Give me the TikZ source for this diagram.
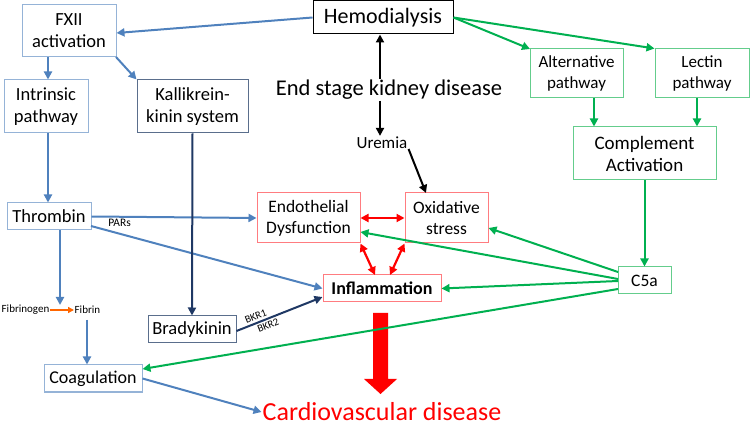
\documentclass[tikz,border=0pt]{standalone}
\usepackage{fontspec}
\setmainfont{Carlito}
\usetikzlibrary{arrows.meta,calc}
\definecolor{cblue}{RGB}{79,129,189}
\definecolor{bborder}{RGB}{149,179,215}
\definecolor{kborder}{RGB}{90,110,140}
\definecolor{navy}{RGB}{31,56,100}
\definecolor{cgreen}{RGB}{0,176,80}
\definecolor{gborder}{RGB}{100,205,140}
\definecolor{rborder}{RGB}{255,124,128}
\definecolor{corange}{RGB}{255,102,0}
\tikzset{
  box/.style={draw, line width=1pt, align=center, inner sep=1pt},
  bbox/.style={box, draw=bborder},
  gbox/.style={box, draw=gborder},
  rbox/.style={box, draw=rborder},
  fsa/.style={font=\fontsize{18.5}{22}\selectfont},
  fsb/.style={font=\fontsize{17.5}{21}\selectfont},
  tip/.style={-{Triangle[length=8pt,width=8pt]}},
  barrow/.style={tip, draw=cblue, fill=cblue, line width=2pt},
  narrow/.style={tip, draw=navy, fill=navy, line width=2pt},
  garrow/.style={tip, draw=cgreen, fill=cgreen, line width=2pt},
  karrow/.style={tip, draw=black, fill=black, line width=2pt},
  rarrow/.style={{Triangle[length=8pt,width=8pt]}-{Triangle[length=8pt,width=8pt]}, draw=red, fill=red, line width=2.2pt},
  small/.style={font=\fontsize{11.5}{12}\selectfont, inner sep=1pt},
  tiny/.style={font=\fontsize{10.5}{11}\selectfont, inner sep=0pt}
}
\begin{document}
\begin{tikzpicture}[x=1pt,y=-1pt]
\useasboundingbox (0,0) rectangle (750,430);
% nodes
\node[bbox, fsa, minimum width=94pt, minimum height=52pt] (fxii) at (69,31) {FXII\\activation};
\node[box, draw=black, font=\fontsize{22}{24}\selectfont, minimum width=140pt, minimum height=33pt] (hemo) at (383,17.5) {Hemodialysis};
\node[bbox, fsa, minimum width=84pt, minimum height=53pt] (intr) at (46,106.5) {Intrinsic\\pathway};
\node[box, draw=kborder, fsa, minimum width=111pt, minimum height=53pt] (kall) at (192.5,106.5) {Kallikrein-\\kinin system};
\node[gbox, font=\fontsize{17}{21}\selectfont, minimum width=93pt, minimum height=49pt] (alt) at (576.5,73.5) {Alternative\\pathway};
\node[gbox, font=\fontsize{17}{21}\selectfont, minimum width=94pt, minimum height=49pt] (lect) at (702,73.5) {Lectin\\pathway};
\node[gbox, font=\fontsize{19}{22}\selectfont, minimum width=143pt, minimum height=53pt] (comp) at (644.5,153.5) {Complement\\Activation};
\node[font=\fontsize{22.5}{24}\selectfont, inner sep=1pt] (esk) at (389,90) {End stage kidney disease};
\node[font=\fontsize{17}{18}\selectfont, inner sep=1pt] (urem) at (382,143) {Uremia};
\node[bbox, fsa, minimum width=84pt, minimum height=27pt] (thr) at (49,216.5) {Thrombin};
\node[rbox, fsb, minimum width=103pt, minimum height=50pt] (endo) at (308.5,218) {Endothelial\\Dysfunction};
\node[rbox, fsb, minimum width=83pt, minimum height=50pt] (oxi) at (446.5,218) {Oxidative\\stress};
\node[rbox, font=\fontsize{18}{20}\selectfont\bfseries, minimum width=118pt, minimum height=27pt] (infl) at (382,288.5) {Inflammation};
\node[gbox, fsb, minimum width=53pt, minimum height=27pt] (c5a) at (644.5,280.5) {C5a};
\node[box, draw=kborder, fsa, minimum width=88pt, minimum height=27pt] (brady) at (192,329.5) {Bradykinin};
\node[bbox, font=\fontsize{18}{20}\selectfont, minimum width=98pt, minimum height=27pt] (coag) at (93,378.5) {Coagulation};
\node[font=\fontsize{11}{12}\selectfont, inner sep=0.5pt, anchor=west] (fibg) at (1,310) {Fibrinogen};
\node[font=\fontsize{11}{12}\selectfont, inner sep=0.5pt, anchor=west] (fib) at (74,310) {Fibrin};
\node[font=\fontsize{26}{28}\selectfont, text=red, inner sep=1pt] (cvd) at (382,412) {Cardiovascular disease};
% big red arrow
\fill[red] (373,313) -- (388,313) -- (388,379) -- (397,379) -- (380.5,394) -- (364,379) -- (373,379) -- cycle;
% blue arrows
\draw[barrow] (hemo.west) -- (fxii.east |- 0,33);
\draw[barrow] (fxii.south -| 48,0) -- (intr.north -| 48,0);
\draw[barrow] (116,57) -- (kall.north west);
\draw[barrow] (intr.south -| 48,0) -- (thr.north -| 48,0);
\draw[barrow] (thr.east) -- node[small, below, pos=0.17]{PARs} (endo.west);
\draw[barrow] (91,226) -- (infl.west);
\coordinate (fibtop) at (60,305);
\draw[barrow] (thr.south -| 60,0) -- (fibtop);
\draw[barrow] (87,320) -- (coag.north -| 87,0);
\draw[barrow] (coag.east) -- (cvd.west);
\draw[-{Triangle[length=6pt,width=6pt]}, draw=corange, fill=corange, line width=1.6pt] (fibg.east) -- (fib.west);
% navy arrows
\draw[narrow] (brady.east |- 0,331) -- node[tiny, sloped, above, pos=0.25, yshift=2pt]{BKR1} node[tiny, sloped, below, pos=0.34, yshift=-2pt]{BKR2} (infl.west |- 0,297);
\draw[narrow] (kall.south) -- (brady.north);
% black arrows
\draw[karrow] (esk.north -| 380,0) -- (hemo.south -| 380,0);
\draw[karrow] (esk.south -| 380,0) -- (urem.north -| 380,0);
\draw[karrow] (urem.east |- 0,149) -- (426,193);
% red arrows
\draw[rarrow] (endo.east) -- (oxi.west);
\draw[rarrow] (endo.south east) -- (375,275);
\draw[rarrow] (oxi.south west) -- (390,275);
% green arrows
\draw[garrow] (hemo.east) -- (530,49);
\draw[garrow] (hemo.east) -- (lect.north west);
\draw[garrow] (alt.south -| 594,0) -- (comp.north -| 594,0);
\draw[garrow] (lect.south -| 697,0) -- (comp.north -| 697,0);
\draw[garrow] (comp.south) -- (c5a.north);
\draw[garrow] (618,272) -- (oxi.east |- 0,228);
\draw[garrow] (618,279) -- (endo.east |- 0,232);
\draw[garrow] (618,281) -- (infl.east);
\draw[garrow] (618,289) -- (coag.east |- 0,369);
\end{tikzpicture}
\end{document}
